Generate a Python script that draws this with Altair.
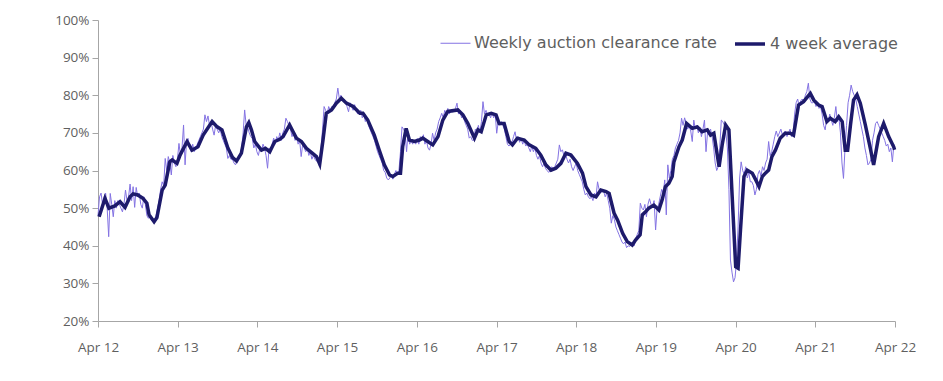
import altair as alt
import pandas as pd

START = "2012-04-01"
SER_RAW = "Weekly auction clearance rate"
SER_AVG = "4 week average"

# Weekly auction clearance rate (%), one value per week from the first week of April 2012
weekly_rate = [
    # Apr 2012 - Mar 2013
    48, 53, 54, 51, 53, 54, 50, 42.4, 53.9, 51, 47.7, 52, 50, 52, 51, 50, 49, 51, 54.8, 52,
    53, 56.4, 52, 55.7, 50.2, 55.5, 53, 54, 51, 50, 53, 51, 48, 47.3, 48, 46.8, 47, 46.5, 48, 50,
    52, 55, 57, 56, 63.2, 60, 63.7, 62, 58.8, 64, 62, 61,
    # Apr 2013 - Mar 2014
    63, 67.2, 64, 66, 72.1, 61.5, 68, 68.5, 66, 65, 67, 65, 66, 67, 68, 69, 70, 71, 74.8, 73,
    74.5, 72, 73, 71, 69.4, 72, 71, 70, 71, 69, 68, 67, 66, 63.2, 64, 63, 63, 62, 61.5, 62.5,
    63.5, 64, 66, 70, 76.1, 72, 71.5, 70, 69, 68.5, 66, 67,
    # Apr 2014 - Mar 2015
    65, 64, 66, 65, 67, 66, 64, 60.6, 66, 65, 67, 68.6, 67, 69, 68, 70, 68, 70, 71, 73.9,
    73, 72, 71, 69, 70, 68, 69, 67, 68, 63.7, 67, 66, 65, 66, 64, 65, 63, 64, 63, 62.5,
    62.8, 61, 66, 71, 77, 76, 75, 77, 76, 77, 76.5, 78,
    # Apr 2015 - Mar 2016
    79, 81.9, 79, 80, 78.5, 79, 78, 77, 75.6, 78, 77, 76, 77.5, 76, 75, 75.5, 76, 74, 75, 73,
    74, 72, 71, 70, 69, 68, 66.5, 65, 64, 63, 62, 60, 59.5, 58, 57.5, 58, 59, 57.7, 59, 60,
    59, 60, 65, 71.6, 71, 70, 65, 70.3, 67, 68, 67, 68,
    # Apr 2016 - Mar 2017
    67, 68.5, 67, 69, 68, 69.5, 67, 68, 66, 65.4, 67, 69.9, 68, 70, 71, 73, 74, 75.2, 74, 76,
    75, 76.5, 75, 76, 75.5, 76, 76.5, 77.9, 75, 76, 74, 74.5, 73, 72, 71, 68.6, 69, 68, 68.1, 71,
    70, 72, 70, 73, 78.3, 75, 76, 74.5, 75, 74, 75.5, 74,
    # Apr 2017 - Mar 2018
    75, 69.9, 73, 72, 73, 72, 71, 69, 67, 66.5, 67, 67.5, 69, 70.3, 68, 69, 67.5, 68.5, 67, 68,
    66.5, 67, 66, 65, 66.5, 65, 66, 64, 63, 64, 62, 61, 62, 60.5, 60, 59.5, 60, 61, 60.5, 61,
    62, 63, 66.8, 65, 65.5, 64, 64.5, 63, 62, 63, 61, 60,
    # Apr 2018 - Mar 2019
    61, 62, 60, 59, 58, 57, 55, 53.5, 54, 53, 52.5, 53, 52, 54, 53, 57, 55, 54, 55, 54.5,
    53, 54, 52, 50, 46, 48, 47, 45, 44, 43, 42, 41, 40.5, 41, 39.5, 40, 39.8, 40.5, 41, 40,
    42, 43, 44, 51.3, 50, 49.5, 51, 47.7, 51, 52.5, 51, 50.5,
    # Apr 2019 - Mar 2020
    52, 44.2, 50, 51, 53, 55, 54, 57.5, 48.2, 61.5, 58, 60, 63, 64, 66, 67, 68, 70, 73.9, 72,
    74, 72.5, 71, 72, 70.5, 67.7, 73.4, 71, 72, 70, 71.5, 69, 71, 73.4, 65, 70, 69.5, 71, 69, 66,
    62, 60, 61, 66, 73.4, 73, 72, 70, 66, 55, 36.2, 33,
    # Apr 2020 - Mar 2021
    30.4, 31.5, 36, 45, 58, 62.3, 60, 59, 61, 58, 59.5, 57, 57, 56, 53.5, 55, 59, 60, 58.5, 61,
    60, 62, 63, 67.7, 64, 65, 67, 69, 70.5, 69, 70, 71, 69.5, 70, 70.5, 69, 70, 71, 69, 70,
    75, 78, 79, 77, 78.5, 79, 78, 80, 81, 83.2, 79, 78,
    # Apr 2021 - Apr 2022
    78, 78.5, 77, 78, 76.5, 77, 75, 72, 70.8, 74, 73, 75, 73.5, 72, 74, 77, 73, 74, 70, 62,
    57.9, 66, 72, 78, 80, 82.7, 81, 80, 79, 77, 75, 73, 71, 69, 66, 64, 61.5, 62, 63, 68,
    70, 72.5, 73, 72, 71, 70, 69, 68, 66.5, 67, 65, 66, 62.3, 67,
]

# 4 week average (%), read at turning points: week number since START, value
avg_week = [
    0.7, 4.6, 7.2, 11, 14.4, 17.7, 21, 23, 26, 29.5, 32, 33.4, 36.7, 38.6, 42, 44, 47, 48.5, 51.7, 53.7,
    58.3, 61.6, 65.5, 68.8, 74.7, 78, 81.2, 85, 88, 90.7, 93.8, 97.1, 98.7, 100.4, 102.6, 107, 109.6, 112.4, 115.7, 119,
    121.2, 125.5, 127.7, 129.9, 133.1, 136.4, 140.8, 143, 145.2, 147.3, 149.5, 152.8, 156, 159.3, 162.6, 167, 171.4, 173.5, 176.6, 180.9,
    184.2, 187.5, 190.8, 193, 196.3, 198, 199.5, 201.7, 203.9, 207.1, 210.4, 212.6, 215.9, 219.2, 222.5, 225.7, 229, 235.6, 238.8, 242.1,
    246.4, 248.7, 250.8, 254.1, 257.4, 260.6, 262.6, 265.9, 269.2, 271.3, 274.6, 279, 282.3, 286.6, 289.9, 293.2, 296.5, 299.7, 303, 306.3,
    309.6, 313.9, 317.2, 319.4, 322.7, 326, 329.2, 332.5, 334.6, 337.9, 340.1, 343.4, 346.4, 349.7, 351.9, 354.8, 356.3, 358.4, 360.6, 363.9,
    367.2, 369.3, 371.5, 373.7, 375.9, 377, 380.3, 382.4, 385.3, 389, 392.3, 395.5, 398.8, 401, 403.2, 406.5, 408.6, 410.8, 413, 415.2,
    417.4, 419, 420.6, 422.9, 425, 428.3, 430.5, 432.7, 434.9, 436.8, 439, 441.2, 443.4, 446.6, 449.9, 453.2, 455.3, 458.6, 461.9, 466.3,
    468.5, 471.7, 474, 477.2, 479.4, 482.6, 484.8, 487.1, 489.2, 490.7, 492.5, 494.6, 496.8, 499, 502.3, 505.6, 507.7, 511, 514.3, 517.6,
    520.8, 521.5,
]
avg_rate = [
    47.7, 52.6, 50.0, 50.6, 51.7, 50.2, 53.0, 53.8, 53.5, 52.6, 51.3, 48.2, 46.4, 47.5, 54.8, 56.1, 62.3, 62.8, 61.9, 64.1,
    67.7, 65.4, 66.3, 69.4, 73.0, 71.6, 70.8, 66.0, 63.5, 62.5, 64.6, 71.6, 72.7, 70.8, 67.7, 65.4, 65.9, 65.0, 67.7, 68.3,
    69.0, 72.1, 70.3, 68.6, 67.7, 65.9, 64.4, 63.7, 61.7, 68.1, 75.2, 76.1, 77.9, 79.2, 77.9, 77.0, 75.2, 75.2, 73.4, 69.4,
    65.4, 61.5, 58.8, 58.4, 59.3, 59.3, 66.3, 71.2, 68.1, 67.7, 68.1, 68.6, 67.7, 66.8, 69.0, 73.4, 75.7, 76.1, 74.8, 72.5,
    68.6, 70.8, 70.3, 74.8, 75.2, 74.8, 72.5, 72.5, 67.7, 66.8, 68.6, 68.1, 66.8, 65.9, 64.1, 61.5, 60.1, 60.6, 61.9, 64.6,
    64.1, 61.9, 59.3, 55.7, 53.5, 53.0, 54.8, 54.4, 53.9, 48.6, 46.8, 43.3, 41.1, 40.2, 41.5, 42.9, 48.2, 49.0, 50.0, 50.8,
    49.5, 52.2, 55.7, 56.6, 58.4, 62.3, 66.3, 68.1, 72.5, 71.2, 71.6, 70.3, 70.8, 69.4, 69.9, 61.0, 66.8, 72.1, 70.8, 53.0,
    34.4, 34.0, 44.2, 58.4, 60.1, 59.3, 57.5, 55.7, 58.4, 59.3, 60.1, 63.7, 65.4, 68.6, 69.9, 69.9, 69.4, 77.4, 78.3, 80.5,
    78.7, 77.4, 77.0, 73.0, 73.9, 73.0, 74.3, 73.0, 65.4, 65.4, 72.1, 78.7, 80.1, 77.9, 72.1, 65.9, 61.5, 69.0, 72.5, 69.0,
    66.3, 65.5,
]

y_ticks = [20, 30, 40, 50, 60, 70, 80, 90, 100]
x_tick_years = list(range(2012, 2023))

start = pd.Timestamp(START)
raw_df = pd.DataFrame({
    "date": [(start + pd.Timedelta(days=7 * i)).strftime("%Y-%m-%dT%H:%M:%S") for i in range(len(weekly_rate))],
    "rate": weekly_rate,
    "series": SER_RAW,
})
avg_df = pd.DataFrame({
    "date": [(start + pd.Timedelta(days=round(7 * w))).strftime("%Y-%m-%dT%H:%M:%S") for w in avg_week],
    "rate": avg_rate,
    "series": SER_AVG,
})
df = pd.concat([raw_df, avg_df], ignore_index=True)

FONT = "Open Sans"
LEGEND_FONT = "DejaVu Sans"
AXIS_GREY = "#a6a6a6"
TEXT_GREY = "#5f5f5f"

x_enc = alt.X(
    "date:T",
    scale=alt.Scale(domain=[alt.DateTime(year=2012, month=4, date=1),
                            alt.DateTime(year=2022, month=4, date=1)]),
    axis=alt.Axis(
        values=[alt.DateTime(year=y, month=4, date=1) for y in x_tick_years],
        format="%b %y", title=None, grid=False, labelPadding=13, labelFlush=False,
    ),
)
y_enc = alt.Y(
    "rate:Q",
    scale=alt.Scale(domain=[20, 100], nice=False, zero=False),
    axis=alt.Axis(values=y_ticks, labelExpr="datum.value + '%'", title=None, grid=False,
                  labelPadding=3, labelFontSize=13.5),
)

legend_kw = dict(
    title=None, orient="none", legendX=342, legendY=7, direction="horizontal",
    symbolType="stroke", symbolSize=900, labelFontSize=16, labelColor=TEXT_GREY,
    labelFont=LEGEND_FONT, columnPadding=11, labelOffset=3, labelLimit=0,
)
color_enc = alt.Color(
    "series:N",
    scale=alt.Scale(domain=[SER_RAW, SER_AVG], range=["#8473e3", "#1d1a6b"]),
    legend=alt.Legend(**legend_kw),
)
width_enc = alt.StrokeWidth(
    "series:N",
    scale=alt.Scale(domain=[SER_RAW, SER_AVG], range=[1, 3.5]),
    legend=alt.Legend(**legend_kw),
)

base = alt.Chart(df)
raw_line = base.transform_filter(alt.datum.series == SER_RAW).mark_line(interpolate="linear").encode(
    x=x_enc, y=y_enc, color=color_enc, strokeWidth=width_enc
)
avg_line = base.transform_filter(alt.datum.series == SER_AVG).mark_line(interpolate="linear").encode(
    x=x_enc, y=y_enc, color=color_enc, strokeWidth=width_enc
)

chart = alt.layer(raw_line, avg_line).properties(
    width=797, height=301,
    autosize=alt.AutoSizeParams(type="none"),
    padding={"left": 90, "top": 12, "right": 40, "bottom": 50},
    background="white",
).configure_view(stroke=None).configure_axis(
    domainColor=AXIS_GREY, tickColor=AXIS_GREY, tickSize=6,
    labelColor=TEXT_GREY, labelFont=FONT, labelFontSize=13,
).configure_axisX(labelFontSize=13.5)

chart.save("out.html", embed_options={"renderer": "svg", "actions": False})
